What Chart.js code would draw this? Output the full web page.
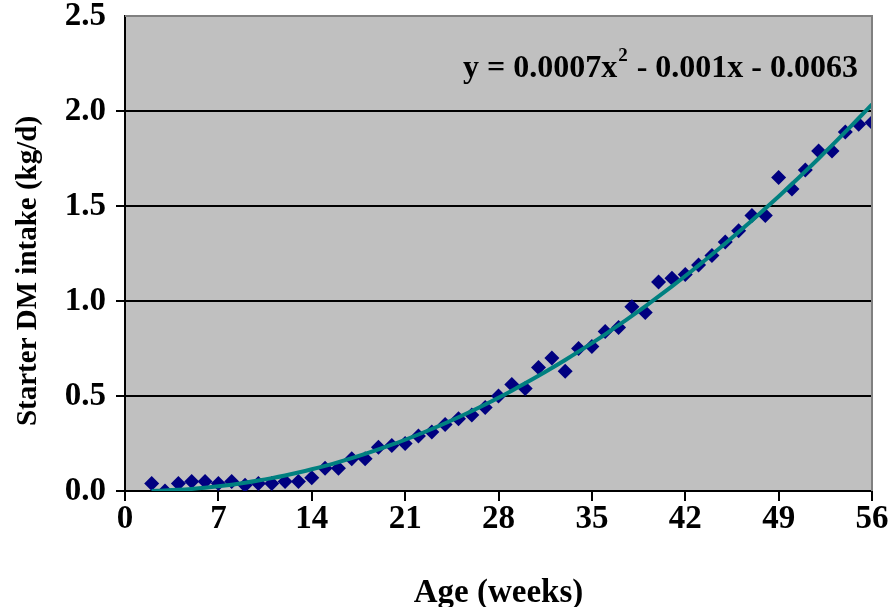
<!DOCTYPE html>
<html>
<head>
<meta charset="utf-8">
<title>Starter DM intake</title>
<script src="https://cdn.jsdelivr.net/npm/chart.js@4/dist/chart.umd.min.js"></script>
<style>
  html, body { margin: 0; padding: 0; background: #fff; }
  #wrap { width: 893px; height: 607px; }
</style>
</head>
<body>
<div id="wrap"><canvas id="myChart1" width="893" height="607"></canvas></div>
<script>
const weeks = [
  2, 3, 4, 5, 6, 7, 8, 9, 10, 11, 12, 13, 14, 15, 16, 17, 18, 19, 20, 21,
  22, 23, 24, 25, 26, 27, 28, 29, 30, 31, 32, 33, 34, 35, 36, 37, 38, 39,
  40, 41, 42, 43, 44, 45, 46, 47, 48, 49, 50, 51, 52, 53, 54, 55, 56,
];
const intake = [
  0.04, 0.0, 0.04, 0.05, 0.05, 0.04, 0.05, 0.03, 0.04, 0.04, 0.05, 0.05,
  0.07, 0.12, 0.12, 0.17, 0.17, 0.23, 0.24, 0.25, 0.29, 0.31, 0.35, 0.38,
  0.4, 0.44, 0.5, 0.56, 0.54, 0.65, 0.7, 0.63, 0.75, 0.76, 0.84, 0.86, 0.97,
  0.94, 1.1, 1.12, 1.14, 1.19, 1.24, 1.31, 1.37, 1.45, 1.45, 1.65, 1.59,
  1.69, 1.79, 1.79, 1.89, 1.93, 1.94,
];
const xTicks = [0, 7, 14, 21, 28, 35, 42, 49, 56];
const yTicks = [0, 0.5, 1.0, 1.5, 2.0, 2.5];
const yTitle = "Starter DM intake (kg/d)";
const equation = ["y = 0.0007x", "2", " - 0.001x - 0.0063"];

const FONT = "'Liberation Serif', 'Times New Roman', serif";

// 2nd order polynomial trend (least squares) from the scatter data
const polyFit = (xs, ys) => {
  let s = [0, 0, 0, 0, 0], t = [0, 0, 0];
  xs.forEach((x, i) => {
    for (let k = 0; k < 5; k++) s[k] += Math.pow(x, k);
    for (let k = 0; k < 3; k++) t[k] += ys[i] * Math.pow(x, k);
  });
  const m = [
    [s[0], s[1], s[2], t[0]],
    [s[1], s[2], s[3], t[1]],
    [s[2], s[3], s[4], t[2]],
  ];
  for (let i = 0; i < 3; i++) {
    for (let j = i + 1; j < 3; j++) {
      const f = m[j][i] / m[i][i];
      for (let k = i; k < 4; k++) m[j][k] -= f * m[i][k];
    }
  }
  const c = [0, 0, 0];
  for (let i = 2; i >= 0; i--) {
    let v = m[i][3];
    for (let k = i + 1; k < 3; k++) v -= m[i][k] * c[k];
    c[i] = v / m[i][i];
  }
  return c;
};

const coef = polyFit(weeks, intake);
const trend = weeks.map((x) => ({ x: x, y: coef[0] + coef[1] * x + coef[2] * x * x }));

const plotBg = {
  id: "plotBg",
  beforeDraw(chart) {
    const { ctx, chartArea: a } = chart;
    ctx.save();
    ctx.fillStyle = "#c0c0c0";
    ctx.fillRect(a.left, a.top, a.right - a.left, a.bottom - a.top);
    ctx.restore();
  },
  afterDatasetsDraw(chart) {
    const { ctx, chartArea: a } = chart;
    ctx.save();
    ctx.strokeStyle = "#808080";
    ctx.lineWidth = 2;
    ctx.beginPath();
    ctx.moveTo(a.left, a.top);
    ctx.lineTo(a.right, a.top);
    ctx.lineTo(a.right, a.bottom);
    ctx.stroke();
    ctx.restore();
  },
  afterDraw(chart) {
    const { ctx, chartArea: a } = chart;
    ctx.save();
    ctx.fillStyle = "#000";

    // y axis title (sits a bit below the plot centre, as in the original)
    ctx.font = "bold 29px " + FONT;
    ctx.textAlign = "center";
    ctx.textBaseline = "middle";
    ctx.translate(29, 271);
    ctx.rotate(-Math.PI / 2);
    ctx.fillText(yTitle, 0, 0);
    ctx.setTransform(1, 0, 0, 1, 0, 0);

    // trend equation
    ctx.textAlign = "left";
    ctx.textBaseline = "alphabetic";
    const big = "bold 32px " + FONT;
    const small = "bold 19px " + FONT;
    ctx.font = big;
    const w0 = ctx.measureText(equation[0]).width;
    const w2 = ctx.measureText(equation[2]).width;
    ctx.font = small;
    const w1 = ctx.measureText(equation[1]).width + 2;
    let x = a.right - 14 - (w0 + w1 + w2);
    const y = 77;
    ctx.font = big;
    ctx.fillText(equation[0], x, y);
    x += w0 + 1;
    ctx.font = small;
    ctx.fillText(equation[1], x, y - 16);
    x += w1 - 1;
    ctx.font = big;
    ctx.fillText(equation[2], x, y);
    ctx.restore();
  },
};

const data = {
  datasets: [
    {
      type: "scatter",
      label: "Intake",
      data: weeks.map((x, i) => ({ x: x, y: intake[i] })),
      pointStyle: "rectRot",
      pointRadius: 7.5,
      pointHoverRadius: 7.5,
      pointBackgroundColor: "#000080",
      pointBorderWidth: 0,
      borderWidth: 0,
      order: 2,
    },
    {
      type: "line",
      label: "Trend",
      data: trend,
      borderColor: "#008080",
      borderWidth: 4,
      pointRadius: 0,
      tension: 0.4,
      fill: false,
      order: 1,
    },
  ],
};

const config = {
  type: "scatter",
  data: data,
  plugins: [plotBg],
  options: {
    responsive: false,
    animation: false,
    layout: { padding: { top: 0, right: 21, left: 0, bottom: 0 } },
    plugins: { legend: { display: false }, tooltip: { enabled: false } },
    scales: {
      x: {
        type: "linear",
        min: 0,
        max: 56,
        afterBuildTicks: (s) => { s.ticks = xTicks.map((v) => ({ value: v })); },
        afterFit: (s) => { s.height = 116; },
        border: { display: true, color: "#000", width: 2 },
        grid: { drawOnChartArea: false, drawTicks: true, tickLength: 10, color: "#000", lineWidth: 2 },
        ticks: { color: "#000", font: { family: FONT, size: 33, weight: "bold", lineHeight: 1 }, padding: 2, maxRotation: 0 },
        title: {
          display: true,
          text: "Age (weeks)",
          color: "#000",
          font: { family: FONT, size: 33, weight: "bold", lineHeight: 0.8 },
          padding: { top: 0, bottom: 0 },
        },
      },
      y: {
        min: 0,
        max: 2.5,
        afterBuildTicks: (s) => { s.ticks = yTicks.map((v) => ({ value: v })); },
        afterFit: (s) => { s.width = 125; s.paddingTop = 16; s.paddingBottom = 0; },
        border: { display: true, color: "#000", width: 2 },
        grid: {
          drawOnChartArea: true,
          drawTicks: true,
          tickLength: 9,
          lineWidth: 2,
          color: (c) => (c.tick && c.tick.value === 2.5 ? "rgba(0,0,0,0)" : "#000"),
        },
        ticks: {
          color: "#000",
          font: { family: FONT, size: 33, weight: "bold", lineHeight: 1 },
          padding: 10,
          callback: (v) => Number(v).toFixed(1),
        },
        title: { display: false },
      },
    },
  },
};

const ctx = document.getElementById("myChart1").getContext("2d");
const myChart = new Chart(ctx, config);
</script>
</body>
</html>
